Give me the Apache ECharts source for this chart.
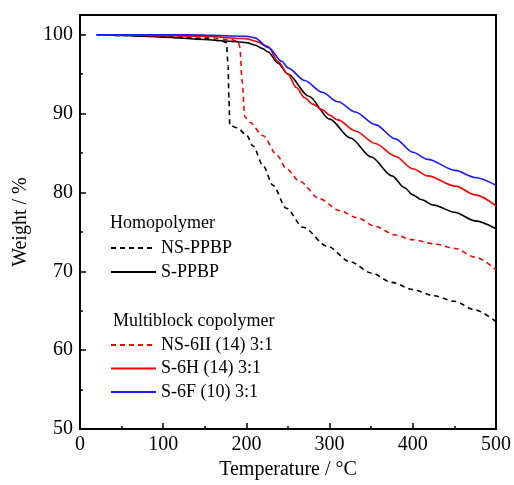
<!DOCTYPE html>
<html><head><meta charset="utf-8">
<script src="https://cdn.jsdelivr.net/npm/echarts@6/dist/echarts.min.js"></script>
<style>html,body{margin:0;padding:0;background:#fff}#c{width:514px;height:485px}</style>
</head><body><div id="c"></div>
<script>
// NS-PPBP (black dashed)
const nsPpbpT = [20,50,100,150,170,176,178,179,180,189,200,208,220,232,248,268,297,325,350,375,400,425,450,475,500];
const nsPpbpW = [100,99.9,99.8,99.5,99.2,99.0,96,92,88.5,88.2,87.3,85.9,83.4,80.9,78,75.6,73.2,71.2,69.8,68.6,67.7,66.9,66.2,65.1,63.6];
// S-PPBP (black solid)
const sPpbpT = [20,50,100,150,175,200,210,220,226,238,250,275,300,325,350,375,390,400,410,425,450,475,500];
const sPpbpW = [100,99.9,99.7,99.4,99.2,99.0,98.7,98.2,97.8,96.4,95,92.2,89.3,86.9,84.5,82.1,80.6,79.7,79.1,78.4,77.5,76.4,75.4];
// NS-6II (14) 3:1 (red dashed)
const ns6hT = [20,50,100,150,180,190,192,195,198,204,220,237,248,264,288,312,333,355,379,400,425,451,475,500];
const ns6hW = [100,99.95,99.9,99.7,99.4,99.2,98.5,94,89.6,88.9,87.2,84.7,83,81.4,79.2,77.7,76.8,75.7,74.6,74,73.5,72.9,71.8,70.2];
// S-6H (14) 3:1 (red solid)
const s6hT = [20,50,100,150,200,210,226,238,250,260,270,280,291,300,310,331,355,379,400,418,451,475,500];
const s6hW = [100,100,99.9,99.8,99.5,99.2,98.5,96.6,95,93.3,92,91.2,90.5,89.8,89.2,87.8,86.2,84.6,83,82.1,80.8,79.7,78.3];
// S-6F (10) 3:1 (blue solid)
const s6fT = [20,50,100,150,200,210,226,243,250,270,291,310,331,355,379,400,418,451,475,500];
const s6fW = [100,100,100,99.95,99.8,99.6,98.4,96.6,95.8,94.2,92.7,91.5,90.2,88.6,86.8,85.1,84.2,82.8,81.9,80.9];

const names = ['NS-PPBP','S-PPBP','NS-6II (14) 3:1','S-6H (14) 3:1','S-6F (10) 3:1'];
const xTicks = [0,100,200,300,400,500];
const yTicks = [50,60,70,80,90,100];

function pairs(t, w){ return t.map((v,i)=>[v,w[i]]); }
const FONT = 'Liberation Serif';

const chart = echarts.init(document.getElementById('c'));
function mk(name, t, w, color, dashed){
  return {
    name, type:'line', data:pairs(t,w), symbol:'none', showSymbol:false, smooth:0.3, smoothMonotone:'x',
    lineStyle:{color, width:1.6, type: dashed ? [5,4] : 'solid'},
    itemStyle:{color}
  };
}
const legendText = {fontFamily:FONT, fontSize:18, color:'#000', lineHeight:20};
chart.setOption({
  animation:false,
  backgroundColor:'#fff',
  grid:{left:80, right:18, top:15, bottom:53, show:true, borderColor:'#000', borderWidth:2, backgroundColor:'transparent'},
  xAxis:{
    type:'value', min:xTicks[0], max:xTicks[xTicks.length-1], interval:100,
    name:'Temperature / °C', nameLocation:'middle', nameGap:30,
    nameTextStyle:{fontFamily:FONT, fontSize:20, color:'#000'},
    axisLine:{show:true, lineStyle:{color:'#000', width:2}},
    axisTick:{show:true, inside:true, length:6, lineStyle:{color:'#000', width:1.5}},
    minorTick:{show:true, splitNumber:2, length:3, lineStyle:{color:'#000', width:1.5}},
    splitLine:{show:false},
    axisLabel:{fontFamily:FONT, fontSize:20, color:'#000', margin:6}
  },
  yAxis:{
    type:'value', min:yTicks[0], max:102.5, interval:10,
    name:'Weight / %', nameLocation:'middle', nameGap:49,
    nameTextStyle:{fontFamily:FONT, fontSize:20, color:'#000'},
    axisLine:{show:true, lineStyle:{color:'#000', width:2}},
    axisTick:{show:true, inside:true, length:6, lineStyle:{color:'#000', width:1.5}},
    minorTick:{show:true, splitNumber:2, length:3, lineStyle:{color:'#000', width:1.5}},
    splitLine:{show:false},
    axisLabel:{fontFamily:FONT, fontSize:20, color:'#000', margin:7, showMaxLabel:false,
      formatter:v=> (yTicks.indexOf(v) >= 0 ? String(v) : '')}
  },
  legend:[
    {show:true, data:[names[0],names[1]], orient:'vertical', left:110, top:238, padding:0, itemWidth:45, itemHeight:14, itemGap:4,
     itemStyle:{opacity:0}, textStyle:legendText, selectedMode:false},
    {show:true, data:[names[2],names[3],names[4]], orient:'vertical', left:110, top:335, padding:0, itemWidth:45, itemHeight:14, itemGap:3.5,
     itemStyle:{opacity:0}, textStyle:legendText, selectedMode:false}
  ],
  graphic:[
    {type:'text', left:110, top:214, style:{text:'Homopolymer', font:'18px "Liberation Serif"', fill:'#000'}},
    {type:'text', left:113, top:312, style:{text:'Multiblock copolymer', font:'18px "Liberation Serif"', fill:'#000'}}
  ],
  series:[
    mk(names[0], nsPpbpT, nsPpbpW, '#000000', true),
    mk(names[1], sPpbpT, sPpbpW, '#000000', false),
    mk(names[2], ns6hT, ns6hW, '#ff0000', true),
    mk(names[3], s6hT, s6hW, '#ff0000', false),
    mk(names[4], s6fT, s6fW, '#1a1aff', false)
  ]
});
</script></body></html>
